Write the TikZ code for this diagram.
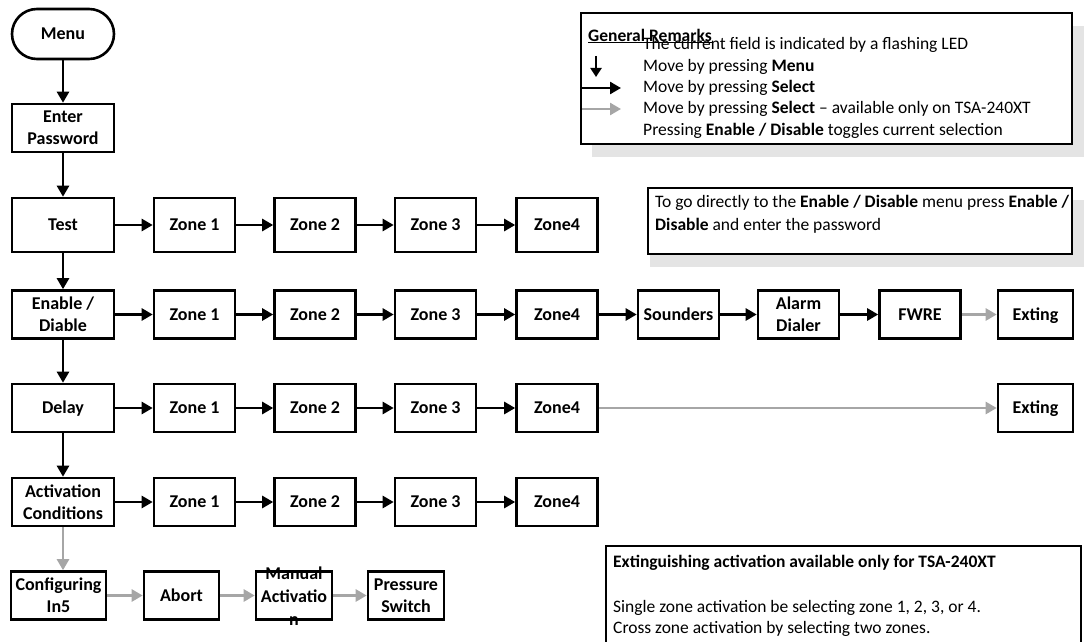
\documentclass[tikz,border=0pt]{standalone}
\usepackage{fontspec}
\setmainfont{Carlito}
\usetikzlibrary{arrows.meta}
\definecolor{arrgrey}{HTML}{A6A6A6}
\definecolor{shadowgrey}{HTML}{E4E4E4}
\begin{document}
\begin{tikzpicture}[x=1pt,y=-1pt,
  box/.style={draw, line width=2.6pt, fill=white, minimum height=48pt, align=center,
    font=\fontsize{18}{22}\selectfont\bfseries, inner sep=1pt},
  sl/.style={text height=11.6pt, text depth=0pt},
  mainbox/.style={box, minimum width=102pt},
  zbox/.style={box, minimum width=81pt},
  sbox/.style={box, minimum width=75pt},
  tallrow/.style={minimum height=54pt},
  arr/.style={line width=2.6pt, -{Triangle[length=11pt,width=12pt]}},
  garr/.style={arr, draw=arrgrey, fill=arrgrey},
  rtext/.style={anchor=west, inner sep=0pt, font=\fontsize{17.5}{21}\selectfont},
  rbold/.style={rtext, font=\fontsize{17.5}{21}\selectfont\bfseries},
  panel/.style={draw, line width=2.6pt, fill=white},
  shadow/.style={fill=shadowgrey, draw=none}
]
\useasboundingbox (0,0) rectangle (1084,642);
\clip (0,0) rectangle (1084,642);

% ---------- panels with shadows ----------
\fill[shadow] (592,26) rectangle (1090,157);
\draw[panel] (581,13) rectangle (1072,144);
\fill[shadow] (650,200) rectangle (1090,267);
\draw[panel] (648,188) rectangle (1072,254);
\draw[panel] (606,546) rectangle (1081,660);

% General remarks text
\node[rbold] (grt) at (588,36) {\underline{General Remarks}};
\node[rtext] (r1) at (643,45) {The current field is indicated by a flashing LED};
\node[rtext] (r2) at (643,67) {Move by pressing \textbf{Menu}};
\node[rtext] (r3) at (643,88) {Move by pressing \textbf{Select}};
\node[rtext] (r4) at (643,109) {Move by pressing \textbf{Select} -- available only on TSA-240XT};
\node[rtext] (r5) at (643,131) {Pressing \textbf{Enable / Disable} toggles current selection};
\coordinate (d1) at (596,56);
\coordinate (d2) at (596,77);
\coordinate (b1) at (582,88);
\coordinate (b2) at (621,88);
\coordinate (g1) at (582,109);
\coordinate (g2) at (621,109);
\draw[line width=2.2pt, -{Triangle[length=9pt,width=11pt]}] (d1) -- (d2);
\draw[arr] (b1) -- (b2);
\draw[garr] (g1) -- (g2);

% Direct-access note
\node[rtext] (n1) at (655,203) {To go directly to the \textbf{Enable / Disable} menu press \textbf{Enable /}};
\node[rtext] (n2) at (655,226) {\textbf{Disable} and enter the password};

% Extinguishing note
\node[rbold] (e1) at (613,563) {Extinguishing activation available only for TSA-240XT};
\node[rtext] (e2) at (613,608) {Single zone activation be selecting zone 1, 2, 3, or 4.};
\node[rtext] (e3) at (613,629) {Cross zone activation by selecting two zones.};

% ---------- main column ----------
\node[mainbox, sl, rounded corners=25pt, minimum height=50pt] (menu) at (63,34) {Menu};
\node[mainbox] (pw) at (63,128) {Enter\\Password};
\node[mainbox, sl, tallrow] (test) at (63,225) {Test};
\node[mainbox] (en) at (63,314.5) {Enable /\\Diable};
\node[mainbox, sl] (del) at (63,408) {Delay};
\node[mainbox] (act) at (63,502) {Activation\\Conditions};
\node[box, minimum width=95pt] (cfg) at (58.5,595.5) {Configuring\\In5};

\draw[arr] (menu) -- (pw);
\draw[arr] (pw) -- (test);
\draw[arr] (test) -- (en);
\draw[arr] (en) -- (del);
\draw[arr] (del) -- (act);
\draw[garr] (act.south) -- (act.south |- cfg.north);

% ---------- Test row ----------
\node[zbox, sl, tallrow] (tz1) at (194.5,225) {Zone 1};
\node[zbox, sl, tallrow] (tz2) at (315,225) {Zone 2};
\node[zbox, sl, tallrow] (tz3) at (435.5,225) {Zone 3};
\node[zbox, sl, tallrow] (tz4) at (557,225) {Zone4};
\draw[arr] (test) -- (tz1);
\draw[arr] (tz1) -- (tz2);
\draw[arr] (tz2) -- (tz3);
\draw[arr] (tz3) -- (tz4);

% ---------- Enable row ----------
\node[zbox, sl] (ez1) at (194.5,314.5) {Zone 1};
\node[zbox, sl] (ez2) at (315,314.5) {Zone 2};
\node[zbox, sl] (ez3) at (435.5,314.5) {Zone 3};
\node[zbox, sl] (ez4) at (557,314.5) {Zone4};
\node[zbox, sl] (snd) at (678.5,314.5) {Sounders};
\node[zbox] (ald) at (798.5,314.5) {Alarm\\Dialer};
\node[zbox, sl] (fw) at (920,314.5) {FWRE};
\node[sbox, sl] (eex) at (1035.5,314.5) {Exting};
\draw[arr] (en) -- (ez1);
\draw[arr] (ez1) -- (ez2);
\draw[arr] (ez2) -- (ez3);
\draw[arr] (ez3) -- (ez4);
\draw[arr] (ez4) -- (snd);
\draw[arr] (snd) -- (ald);
\draw[arr] (ald) -- (fw);
\draw[garr] (fw) -- (eex);

% ---------- Delay row ----------
\node[zbox, sl] (dz1) at (194.5,408) {Zone 1};
\node[zbox, sl] (dz2) at (315,408) {Zone 2};
\node[zbox, sl] (dz3) at (435.5,408) {Zone 3};
\node[zbox, sl] (dz4) at (557,408) {Zone4};
\node[sbox, sl] (dex) at (1035.5,408) {Exting};
\draw[arr] (del) -- (dz1);
\draw[arr] (dz1) -- (dz2);
\draw[arr] (dz2) -- (dz3);
\draw[arr] (dz3) -- (dz4);
\draw[garr] (dz4) -- (dex);

% ---------- Activation row ----------
\node[zbox, sl] (az1) at (194.5,502) {Zone 1};
\node[zbox, sl] (az2) at (315,502) {Zone 2};
\node[zbox, sl] (az3) at (435.5,502) {Zone 3};
\node[zbox, sl] (az4) at (557,502) {Zone4};
\draw[arr] (act) -- (az1);
\draw[arr] (az1) -- (az2);
\draw[arr] (az2) -- (az3);
\draw[arr] (az3) -- (az4);

% ---------- Configuring row ----------
\node[box, sl, minimum width=75pt] (abt) at (181.5,595.5) {Abort};
\node[box, minimum width=76pt] (man) at (294,595.5) {};
\node[inner sep=0pt, align=center, font=\fontsize{18}{23}\selectfont\bfseries] (mant) at (294,596) {Manual\\Activatio\\n};
\node[box, minimum width=76pt] (prs) at (406,595.5) {Pressure\\Switch};
\draw[garr] (cfg) -- (abt);
\draw[garr] (abt) -- (man);
\draw[garr] (man) -- (prs);
\end{tikzpicture}
\end{document}
